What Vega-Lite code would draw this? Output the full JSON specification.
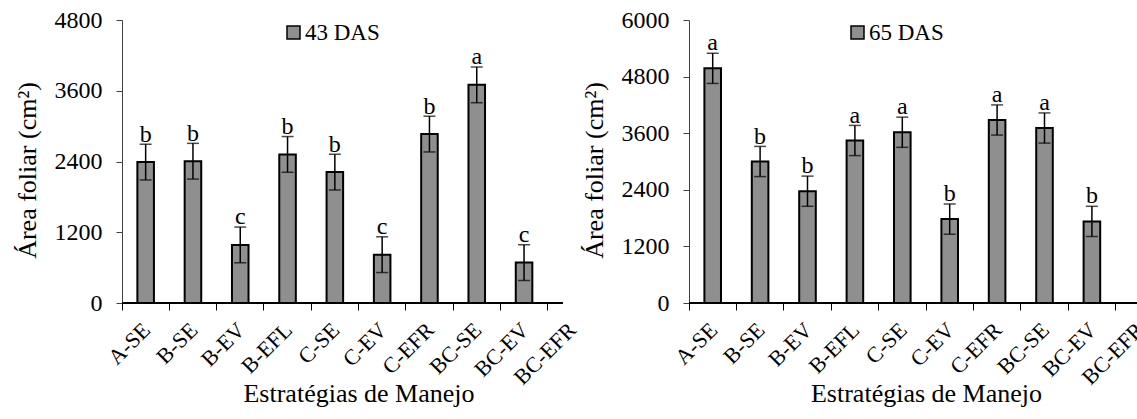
{
  "$schema": "https://vega.github.io/schema/vega-lite/v6.json",
  "padding": {"left": 14, "top": 8, "right": 0, "bottom": 0},
  "background": "white",
  "config": {
    "font": "Liberation Serif",
    "view": {"stroke": null},
    "axis": {"labelFont": "Liberation Serif", "titleFont": "Liberation Serif", "labelColor": "black", "titleColor": "black", "titleFontWeight": "normal", "grid": false},
    "legend": {"labelFont": "Liberation Serif", "labelColor": "black"},
    "text": {"font": "Liberation Serif"}
  },
  "datasets": {
    "dados": [
      {"dias": "43 DAS", "trat": "A-SE", "area": 2390, "ep": 303, "letra": "b"},
      {"dias": "43 DAS", "trat": "B-SE", "area": 2405, "ep": 303, "letra": "b"},
      {"dias": "43 DAS", "trat": "B-EV", "area": 985, "ep": 303, "letra": "c"},
      {"dias": "43 DAS", "trat": "B-EFL", "area": 2520, "ep": 303, "letra": "b"},
      {"dias": "43 DAS", "trat": "C-SE", "area": 2220, "ep": 303, "letra": "b"},
      {"dias": "43 DAS", "trat": "C-EV", "area": 820, "ep": 303, "letra": "c"},
      {"dias": "43 DAS", "trat": "C-EFR", "area": 2865, "ep": 303, "letra": "b"},
      {"dias": "43 DAS", "trat": "BC-SE", "area": 3700, "ep": 303, "letra": "a"},
      {"dias": "43 DAS", "trat": "BC-EV", "area": 685, "ep": 303, "letra": "c"},
      {"dias": "65 DAS", "trat": "A-SE", "area": 4975, "ep": 320, "letra": "a"},
      {"dias": "65 DAS", "trat": "B-SE", "area": 3000, "ep": 320, "letra": "b"},
      {"dias": "65 DAS", "trat": "B-EV", "area": 2370, "ep": 320, "letra": "b"},
      {"dias": "65 DAS", "trat": "B-EFL", "area": 3445, "ep": 320, "letra": "a"},
      {"dias": "65 DAS", "trat": "C-SE", "area": 3620, "ep": 320, "letra": "a"},
      {"dias": "65 DAS", "trat": "C-EV", "area": 1780, "ep": 320, "letra": "b"},
      {"dias": "65 DAS", "trat": "C-EFR", "area": 3880, "ep": 320, "letra": "a"},
      {"dias": "65 DAS", "trat": "BC-SE", "area": 3710, "ep": 320, "letra": "a"},
      {"dias": "65 DAS", "trat": "BC-EV", "area": 1730, "ep": 320, "letra": "b"}
    ]
  },
  "data": {"name": "dados"},
  "bounds": "flush",
  "spacing": 126,
  "resolve": {"scale": {"color": "independent", "x": "independent", "y": "independent"}, "legend": {"color": "independent"}},
  "hconcat": [
    {
      "width": 441,
      "height": 283,
      "transform": [{"filter": "datum.dias == '43 DAS'"}],
      "encoding": {
        "y": {"field": "area", "type": "quantitative",
          "scale": {"domain": [0, 4800], "nice": false},
          "axis": {"title": "Área foliar (cm²)", "values": [0, 1200, 2400, 3600, 4800], "format": "d", "labelFont": "Liberation Serif", "labelFontSize": 24, "titleFont": "Liberation Serif", "titleFontSize": 26, "tickSize": 6, "labelPadding": 14, "titlePadding": 14, "domainColor": "#404040", "tickColor": "#404040", "titleY": 150}}
      },
      "layer": [
        {
          "mark": {"type": "bar", "stroke": "black", "strokeWidth": 2, "width": {"band": 0.35}},
          "encoding": {
            "x": {"field": "trat", "type": "nominal", "sort": null,
              "scale": {"domain": ["A-SE","B-SE","B-EV","B-EFL","C-SE","C-EV","C-EFR","BC-SE","BC-EV","BC-EFR"], "range": [0, 473], "paddingInner": 0, "paddingOuter": 0},
              "axis": {"title": "Estratégias de Manejo", "labelAngle": -45, "labelAlign": "right", "labelBaseline": "middle", "labelFont": "Liberation Serif", "labelFontSize": 22, "titleFont": "Liberation Serif", "titleFontSize": 26, "bandPosition": 0, "labelOffset": 1, "tickSize": 7, "tickColor": "black", "domain": false, "labelPadding": 16, "titleX": 236.5, "titlePadding": -8}},
            "color": {"field": "dias", "type": "nominal", "scale": {"range": ["#8f8f8f"]},
              "legend": {"title": null, "orient": "none", "legendX": 160, "legendY": 1, "labelFont": "Liberation Serif", "labelFontSize": 23, "symbolType": "square", "symbolSize": 169, "symbolStrokeColor": "black", "symbolStrokeWidth": 1.5, "padding": 0, "labelOffset": 0}}
          }
        },
        {
          "mark": {"type": "errorbar", "color": "black", "ticks": {"size": 12, "thickness": 1.5}, "rule": {"strokeWidth": 1.5}},
          "encoding": {
            "x": {"field": "trat", "type": "nominal", "sort": null, "title": "Estratégias de Manejo"},
            "yError": {"field": "ep"}
          }
        },
        {
          "mark": {"type": "text", "font": "Liberation Serif", "fontSize": 24, "baseline": "alphabetic", "dy": -20.5, "color": "black"},
          "encoding": {
            "x": {"field": "trat", "type": "nominal", "sort": null, "title": "Estratégias de Manejo"},
            "text": {"field": "letra"}
          }
        },
        {
          "mark": {"type": "rule", "color": "black", "strokeWidth": 2},
          "encoding": {"y": {"datum": 0}}
        }
      ]
    },
    {
      "width": 450,
      "height": 283,
      "transform": [{"filter": "datum.dias == '65 DAS'"}],
      "encoding": {
        "y": {"field": "area", "type": "quantitative",
          "scale": {"domain": [0, 6000], "nice": false},
          "axis": {"title": "Área foliar (cm²)", "values": [0, 1200, 2400, 3600, 4800, 6000], "format": "d", "labelFont": "Liberation Serif", "labelFontSize": 24, "titleFont": "Liberation Serif", "titleFontSize": 26, "tickSize": 6, "labelPadding": 14, "titlePadding": 14, "domainColor": "#404040", "tickColor": "#404040", "titleY": 150}}
      },
      "layer": [
        {
          "mark": {"type": "bar", "stroke": "black", "strokeWidth": 2, "width": {"band": 0.35}},
          "encoding": {
            "x": {"field": "trat", "type": "nominal", "sort": null,
              "scale": {"domain": ["A-SE","B-SE","B-EV","B-EFL","C-SE","C-EV","C-EFR","BC-SE","BC-EV","BC-EFR"], "range": [0, 474], "paddingInner": 0, "paddingOuter": 0},
              "axis": {"title": "Estratégias de Manejo", "labelAngle": -45, "labelAlign": "right", "labelBaseline": "middle", "labelFont": "Liberation Serif", "labelFontSize": 22, "titleFont": "Liberation Serif", "titleFontSize": 26, "bandPosition": 0, "labelOffset": 1, "tickSize": 7, "tickColor": "black", "domain": false, "labelPadding": 16, "titleX": 237, "titlePadding": -8}},
            "color": {"field": "dias", "type": "nominal", "scale": {"range": ["#8f8f8f"]},
              "legend": {"title": null, "orient": "none", "legendX": 157, "legendY": 1, "labelFont": "Liberation Serif", "labelFontSize": 23, "symbolType": "square", "symbolSize": 169, "symbolStrokeColor": "black", "symbolStrokeWidth": 1.5, "padding": 0, "labelOffset": 0}}
          }
        },
        {
          "mark": {"type": "errorbar", "color": "black", "ticks": {"size": 12, "thickness": 1.5}, "rule": {"strokeWidth": 1.5}},
          "encoding": {
            "x": {"field": "trat", "type": "nominal", "sort": null, "title": "Estratégias de Manejo"},
            "yError": {"field": "ep"}
          }
        },
        {
          "mark": {"type": "text", "font": "Liberation Serif", "fontSize": 24, "baseline": "alphabetic", "dy": -18, "color": "black"},
          "encoding": {
            "x": {"field": "trat", "type": "nominal", "sort": null, "title": "Estratégias de Manejo"},
            "text": {"field": "letra"}
          }
        },
        {
          "mark": {"type": "rule", "color": "black", "strokeWidth": 2},
          "encoding": {"y": {"datum": 0}}
        }
      ]
    }
  ]
}
